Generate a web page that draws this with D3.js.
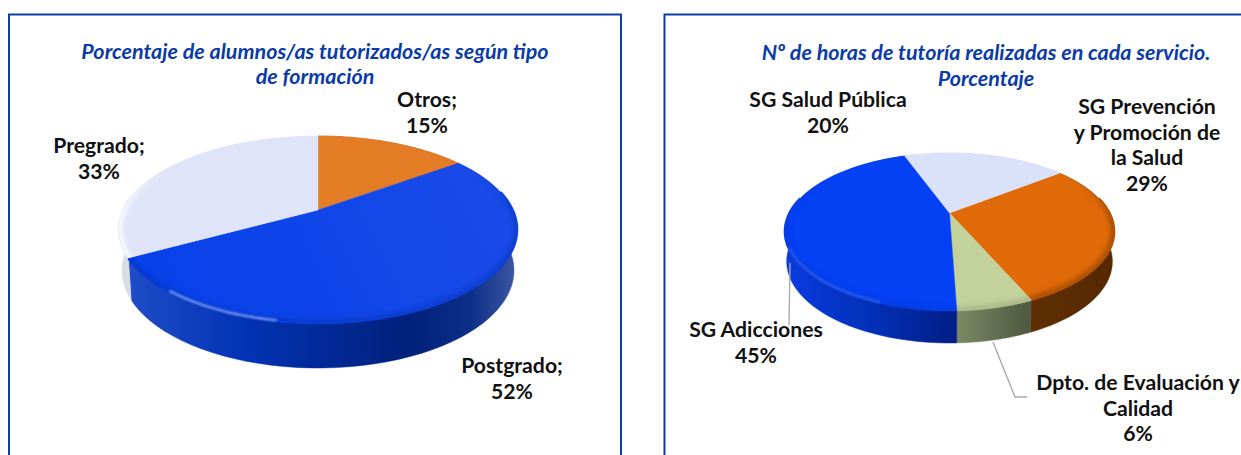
<!DOCTYPE html>
<html><head><meta charset="utf-8">
<script src="https://cdn.jsdelivr.net/npm/d3@7"></script>
<style>html,body{margin:0;padding:0;background:#fff;overflow:hidden}svg{display:block}
text{font-family:Lato,Carlito,sans-serif}</style></head><body>
<svg id="c" width="1241" height="455"></svg>
<script>
// ---- data
const leftTitle = ["Porcentaje de alumnos/as tutorizados/as según tipo","de formación"];
const leftCategories = ["Otros","Postgrado","Pregrado"];
const leftValues = [15,52,33];
const rightTitle = ["Nº de horas de tutoría realizadas en cada servicio.","Porcentaje"];
const rightCategories = ["SG Prevención y Promoción de la Salud","Dpto. de Evaluación y Calidad","SG Adicciones","SG Salud Pública"];
const rightValues = [29,6,45,20];
const leftLabels = [["Otros;","15%"],["Postgrado;","52%"],["Pregrado;","33%"]];
const rightLabels = [["SG Prevención","y Promoción de","la Salud","29%"],["Dpto. de Evaluación y","Calidad","6%"],["SG Adicciones","45%"],["SG Salud Pública","20%"]];

// ---- layout / style
const FRAME = "#0d3fa6", TITLE = "#0b3ba8";
const rad = d=>d*Math.PI/180;
const charts = [
 {id:"l",categories:leftCategories,values:leftValues,start:0,title:leftTitle,titleX:315,titleY:[59,84],labels:leftLabels,
  labelPos:[[427,107],[512,373],[99,153]],
  cx:318,back:136,mid:210,front:323,halfW:199,depth:45,shrink:0.985,
  top:[["#e47c25","#e47c25"],["#1c4ce9","#0340e8"],["#dfe4f9","#dfe4f9"]],
  shade:[["#000",0],["#0a2fb0",.55],["#ffffff",.95]],
  rimBlend:["#e47c25","#0a3cd8","#eef0f6"],
  wall:[["#a85a15","#a85a15"],["#1f4cc8","#0233b4","#00207a","#0d2f88","#3d58a4"],["#d9dce6","#f4f6fb"]],
  wallStops:[[0,1],[0,.3,.72,.88,1],[0,1]],
  glint:[rad(190),rad(220),.75],
  leaders:[]},
 {id:"r",categories:rightCategories,values:rightValues,start:rad(52),title:rightTitle,titleX:986,titleY:[60,86],labels:rightLabels,
  labelPos:[[1147,114],[1138,390],[756,337],[828,107]],
  cx:949.5,back:153,mid:213,front:310,halfW:164.5,depth:33,shrink:0.99,
  top:[["#e06a08","#e06a08"],["#c3d29b","#c3d29b"],["#0440f4","#0440f4"],["#dae2f9","#dae2f9"]],
  shade:[["#8f4204",.8],["#8d9a70",.5],["#0a38c8",.4],["#000",0]],
  rimBlend:["#a85006","#a9b688","#0a3ce0","#dae2f9"],
  wall:[["#5f2e02","#552800"],["#7c8964","#4d5840"],["#0a3be0","#0230b8","#001e84"],["#ccd","#ccd"]],
  wallStops:[[0,1],[0,1],[0,.5,1],[0,1]],
  glint:[rad(200),rad(245),.25],
  leaders:[[[790,263],[789,325]],[[993,342],[1015,397],[1027,397]]]}
];

const svg = d3.select("#c");
const defs = svg.append("defs");
[["b3",2.4],["b1",.8],["b05",.6]].forEach(([id,s])=>{
  defs.append("filter").attr("id",id).attr("x","-20%").attr("y","-20%").attr("width","140%").attr("height","140%")
    .append("feGaussianBlur").attr("stdDeviation",s);
});

// frames
const line = d3.line();
svg.append("path").attr("d",line([[9,455],[9,14.5],[621,14.5],[621,455]])).attr("fill","none").attr("stroke",FRAME).attr("stroke-width",2);
svg.append("path").attr("d",line([[664.5,455],[664.5,14.5],[1241,14.5]])).attr("fill","none").attr("stroke",FRAME).attr("stroke-width",2);

charts.forEach(ch=>{
  const g = svg.append("g");
  // projective map of the unit disc onto the tilted pie
  const k = (2*ch.mid-ch.back-ch.front)/(ch.front-ch.back);
  const a = ch.front*(1+k)-ch.mid;
  const X = ch.halfW*Math.sqrt(1-k*k);
  const project = (th,r=1)=>{
    const u=r*Math.sin(th), v=-r*Math.cos(th), d=1+k*v;
    return [ch.cx+X*u/d,(a*v+ch.mid)/d];
  };
  const lower = p=>[ch.cx+(p[0]-ch.cx)*ch.shrink,p[1]+ch.depth*(0.82+0.18*(p[1]-ch.back)/(ch.front-ch.back))];
  const arcPts = (s,e,r=1)=>d3.range(0,61).map(i=>project(s+(e-s)*i/60,r));
  const pie = d3.pie().sort(null).value(d=>d).startAngle(ch.start).endAngle(ch.start+2*Math.PI);
  const arcs = pie(ch.values);
  const whole = arcPts(0,2*Math.PI);

  // walls
  arcs.forEach((d,i)=>{
    const top = arcPts(d.startAngle,d.endAngle);
    const xs = top.map(p=>p[0]);
    const id = ch.id+"w"+i;
    const gr = defs.append("linearGradient").attr("id",id).attr("gradientUnits","userSpaceOnUse")
      .attr("x1",d3.min(xs)).attr("x2",d3.max(xs)).attr("y1",0).attr("y2",0);
    ch.wall[i].forEach((col,j)=>gr.append("stop").attr("offset",ch.wallStops[i][j]).attr("stop-color",col));
    g.append("path").attr("d",line(top.concat(top.map(lower).reverse()))+"Z")
      .attr("fill",`url(#${id})`).attr("stroke",`url(#${id})`).attr("stroke-width",.5);
  });

  // soft blend of each slice's front rim into its wall
  const frontLo=rad(78), frontHi=rad(282);
  arcs.forEach((d,i)=>{
    [0,2*Math.PI,-2*Math.PI].forEach(off=>{
      const s=Math.max(d.startAngle+off,frontLo), e=Math.min(d.endAngle+off,frontHi);
      if(e>s) g.append("path").attr("d",line(arcPts(s,e))).attr("fill","none")
        .attr("stroke",ch.rimBlend[i]).attr("stroke-width",2.6).attr("filter","url(#b05)");
    });
  });

  // top face with per-slice rim shading, strongest towards the front
  arcs.forEach((d,i)=>{
    const pts=[[ch.cx,ch.mid]].concat(arcPts(d.startAngle,d.endAngle));
    const sliceD=line(pts)+"Z";
    const fid=ch.id+"f"+i;
    const fg=defs.append("linearGradient").attr("id",fid).attr("gradientUnits","userSpaceOnUse")
      .attr("x1",ch.cx+ch.halfW).attr("x2",ch.cx-ch.halfW).attr("y1",ch.back).attr("y2",ch.front);
    ch.top[i].forEach((c,j)=>fg.append("stop").attr("offset",j).attr("stop-color",c));
    g.append("path").attr("d",sliceD).attr("fill",`url(#${fid})`).attr("stroke",`url(#${fid})`).attr("stroke-width",.4);
    defs.append("clipPath").attr("id",ch.id+"s"+i).append("path").attr("d",sliceD);
    if(ch.shade[i][1]>0){
      const sid=ch.id+"sh"+i;
      const sg=defs.append("linearGradient").attr("id",sid).attr("gradientUnits","userSpaceOnUse")
        .attr("x1",0).attr("x2",0).attr("y1",ch.back).attr("y2",ch.front);
      [[0,0],[.18,0],[.42,1],[1,1]].forEach(([o,op])=>sg.append("stop").attr("offset",o)
        .attr("stop-color",ch.shade[i][0]).attr("stop-opacity",op*ch.shade[i][1]));
      g.append("g").attr("clip-path",`url(#${ch.id}s${i})`).append("path")
        .attr("d",line(whole)+"Z").attr("fill","none").attr("stroke",`url(#${sid})`)
        .attr("stroke-width",6).attr("filter","url(#b3)");
    }
  });
  // glint on the front edge
  g.append("path").attr("d",line(arcPts(ch.glint[0],ch.glint[1],.995))).attr("fill","none").attr("stroke","#dfe9ff")
    .attr("stroke-opacity",ch.glint[2]).attr("stroke-width",1.6).attr("stroke-linecap","round").attr("filter","url(#b1)");

  // leader lines
  ch.leaders.forEach(l=>g.append("path").attr("d",line(l)).attr("fill","none").attr("stroke","#a9a9a9").attr("stroke-width",1.4));

  // title
  ch.title.forEach((t,i)=>g.append("text").attr("x",ch.titleX).attr("y",ch.titleY[i]).attr("text-anchor","middle")
    .attr("font-size",21.5).attr("font-weight",700).attr("font-style","italic").attr("fill",TITLE).text(t));

  // data labels
  ch.labels.forEach((lines,i)=>{
    const t=g.append("text").attr("text-anchor","middle").attr("font-size",21.2).attr("font-weight",700).attr("fill","#111");
    lines.forEach((s,j)=>t.append("tspan").attr("x",ch.labelPos[i][0]).attr("y",ch.labelPos[i][1]+j*25.7).text(s));
  });
});
</script></body></html>
